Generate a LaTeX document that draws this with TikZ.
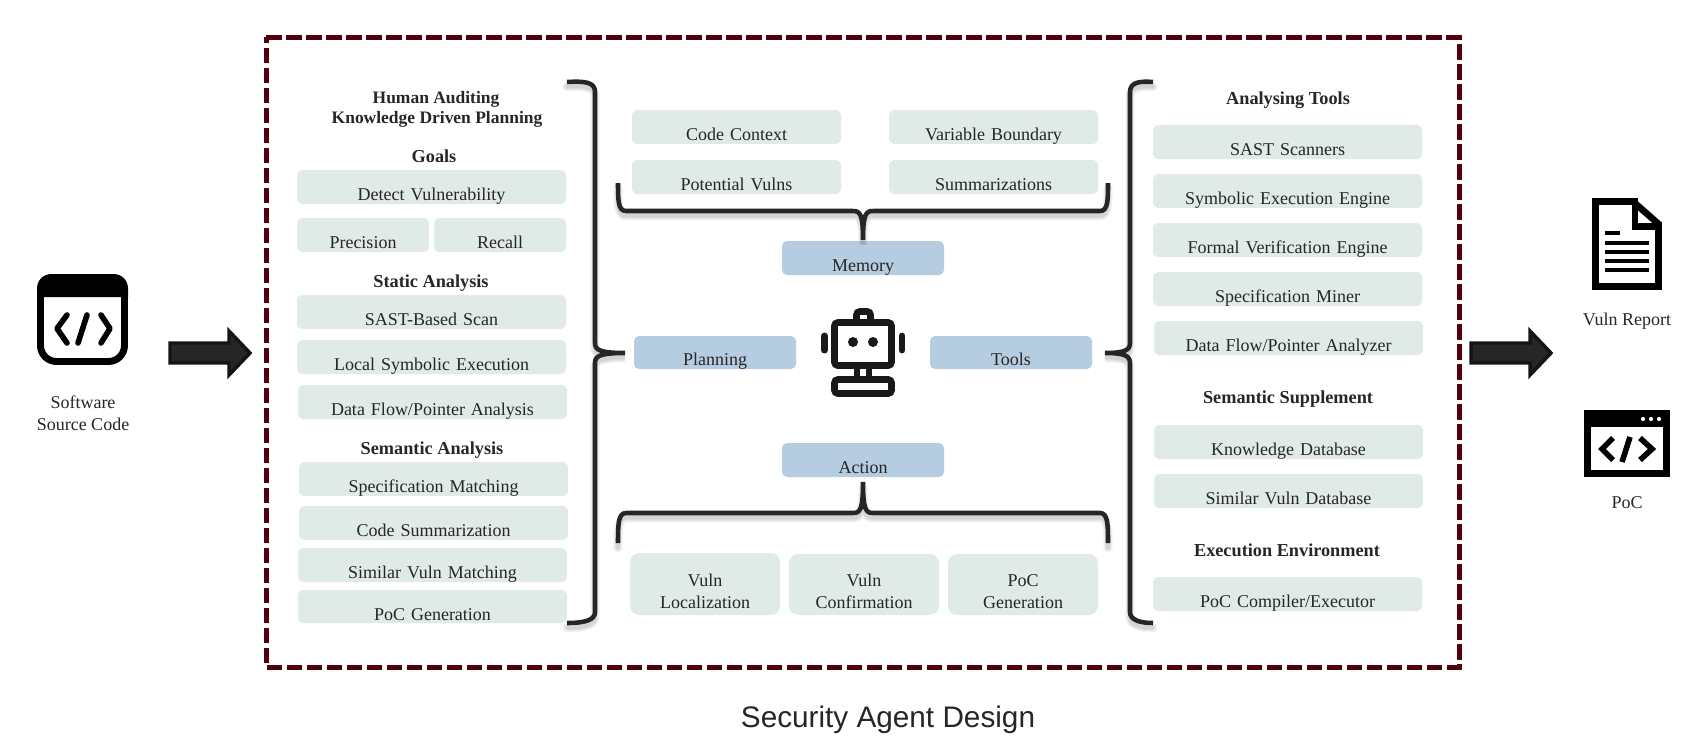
\documentclass[tikz,border=0pt]{standalone}
\usepackage{fontspec}
\setmainfont{Liberation Serif}
\newfontfamily\titlefont{Liberation Sans}
\definecolor{boxgreen}{HTML}{E0EAE6}
\definecolor{boxblue}{HTML}{B6CCE0}
\definecolor{inktext}{HTML}{262626}
\definecolor{framered}{HTML}{50000F}
\definecolor{bracecol}{HTML}{262626}
\tikzset{
  txt/.style={font=\fontsize{13.5pt}{16.5pt}\selectfont,text=inktext,inner sep=0pt},
  head/.style={font=\fontsize{13.7pt}{16.5pt}\selectfont\bfseries,text=inktext,inner sep=0pt,anchor=base},
  headsmall/.style={head,font=\fontsize{13.1pt}{16.5pt}\selectfont\bfseries},
  lbl/.style={txt,anchor=base},
  framedash/.style={draw=framered,line width=3.75pt,dash pattern=on 11.6pt off 3.4pt},
  bracemain/.style={draw=bracecol,line width=3.4pt,line join=miter},
  braceshade/.style={draw=black,opacity=0.045,line cap=round},
  bigarrow/.style={fill=inktext,draw=black!92,line width=2.6pt,miter limit=10},
  icon/.style={draw=black,line width=5pt},
  codeglyph/.style={draw=black,line width=4.2pt,line cap=round,line join=round},
  pocglyph/.style={draw=black,line width=4.2pt},
  robot/.style={draw=black!90,line width=5pt,rounded corners=2.5pt}
}
\newcommand\bx[7][boxgreen]{%
  \pgfmathsetmacro\bxw{(#4-#2)*0.75}%
  \pgfmathsetmacro\bxh{(#6-#3)*0.75}%
  \pgfmathsetmacro\bxd{(#5-#6)*0.75}%
  \pgfmathsetmacro\bxcx{(#2+#4)/2}%
  \pgfmathsetmacro\bxcy{(#3+#5)/2}%
  \node[txt,fill=#1,rounded corners=3.8pt,text width=\bxw pt,align=center,
        text height=\bxh pt,text depth=\bxd pt] (#2x#3) at (\bxcx,\bxcy) {#7};%
}
\newcommand\bxtwo[7]{%
  \pgfmathsetmacro\bxw{(#3-#1)*0.75}%
  \pgfmathsetmacro\bxh{(#5-#2)*0.75}%
  \pgfmathsetmacro\bxd{(#4-#5-22)*0.75}%
  \pgfmathsetmacro\bxcx{(#1+#3)/2}%
  \pgfmathsetmacro\bxcy{(#2+#4)/2}%
  \node[txt,fill=boxgreen,rounded corners=7pt,text width=\bxw pt,align=center] (#1x#2) at (\bxcx,\bxcy)
    {\rule{0pt}{\bxh pt}#6\\#7\rule[-\bxd pt]{0pt}{\bxd pt}};%
}
\newcommand\shaded[1]{%
  \begin{scope}[yshift=-3.5pt]
    \foreach \w in {7,5.5,4,2.5}{\draw[braceshade,line width=\w pt] #1;}
  \end{scope}
  \draw[bracemain] #1;
}
\begin{document}
\begin{tikzpicture}[x=0.75pt,y=-0.75pt]
\useasboundingbox[fill=white] (0,0) rectangle (1695,751);

% ---- frame
\coordinate (fTL) at (266.3,37.3);
\coordinate (fTR) at (1459.3,37.3);
\coordinate (fBL) at (266.3,667.3);
\coordinate (fBR) at (1459.3,667.3);
\draw[framedash] (fTL) -- (fTR) -- (fBR) -- (fBL) -- cycle;

% ---- title
\node[anchor=base,font=\titlefont\fontsize{22.3pt}{26pt}\selectfont,text=inktext,inner sep=0pt] (title) at (888,727) {Security Agent Design};

% ---- left column
\node[headsmall] (h1) at (436,103) {Human Auditing};
\node[headsmall] (h2) at (437,123) {Knowledge Driven Planning};
\node[head] (h3) at (434,162) {Goals};
\bx{297}{170}{566}{204}{200}{Detect Vulnerability}
\bx{297}{218}{429}{252}{248}{Precision}
\bx{434}{218}{566}{252}{248}{Recall}
\node[head] (h4) at (431,287) {Static Analysis};
\bx{297}{295}{566}{329}{325}{SAST-Based Scan}
\bx{297}{340}{566}{374}{370}{Local Symbolic Execution}
\bx{298}{385}{567}{419}{415}{Data Flow/Pointer Analysis}
\node[head] (h5) at (432,454) {Semantic Analysis};
\bx{299}{462}{568}{496}{492}{Specification Matching}
\bx{299}{506}{568}{540}{536}{Code Summarization}
\bx{298}{548}{567}{582}{578}{Similar Vuln Matching}
\bx{298}{590}{567}{623}{620}{PoC Generation}

% ---- centre
\bx{632}{110}{841}{144}{140}{Code Context}
\bx{889}{110}{1098}{144}{140}{Variable Boundary}
\bx{632}{160}{841}{194}{190}{Potential Vulns}
\bx{889}{160}{1098}{194}{190}{Summarizations}
\bx[boxblue]{782}{241}{944}{275}{271}{Memory}
\bx[boxblue]{634}{336}{796}{369}{365}{Planning}
\bx[boxblue]{930}{336}{1092}{369}{365}{Tools}
\bx[boxblue]{782}{443}{944}{477}{473}{Action}
\bxtwo{630}{553}{780}{615}{586}{Vuln}{Localization}
\bxtwo{789}{554}{939}{615}{586}{Vuln}{Confirmation}
\bxtwo{948}{554}{1098}{615}{586}{PoC}{Generation}

% ---- right column
\node[head] (h6) at (1288,104) {Analysing Tools};
\bx{1153}{125}{1422}{159}{155}{SAST Scanners}
\bx{1153}{174}{1422}{208}{204}{Symbolic Execution Engine}
\bx{1153}{223}{1422}{257}{253}{Formal Verification Engine}
\bx{1153}{272}{1422}{306}{302}{Specification Miner}
\bx{1154}{321}{1423}{355}{351}{Data Flow/Pointer Analyzer}
\node[head] (h7) at (1288,403) {Semantic Supplement};
\bx{1154}{425}{1423}{459}{455}{Knowledge Database}
\bx{1154}{474}{1423}{508}{504}{Similar Vuln Database}
\node[head] (h8) at (1287,556) {Execution Environment};
\bx{1153}{577}{1422}{611}{607}{PoC Compiler/Executor}

% ---- braces
\shaded{(567,82) .. controls (585,81) and (595,82) .. (595,92) -- (595,343) .. controls (595,350) and (600,353) .. (625,353) .. controls (600,353) and (595,356) .. (595,363) -- (595,612) .. controls (595,620) and (585,623) .. (567,623)}
\shaded{(1153,82) .. controls (1140,81) and (1130,82) .. (1130,92) -- (1130,343) .. controls (1130,350) and (1125,353) .. (1105,353) .. controls (1125,353) and (1130,356) .. (1130,363) -- (1130,612) .. controls (1130,620) and (1140,623) .. (1153,623)}
\shaded{(618,183) .. controls (618,200) and (618,211) .. (626,211) -- (853,211) .. controls (860,211) and (863,214) .. (863,240) .. controls (863,214) and (866,211) .. (873,211) -- (1100,211) .. controls (1108,211) and (1108,200) .. (1108,183)}
\shaded{(618,543) .. controls (618,525) and (618,513) .. (626,513) -- (853,513) .. controls (860,513) and (863,510) .. (863,482) .. controls (863,510) and (866,513) .. (873,513) -- (1100,513) .. controls (1108,513) and (1108,525) .. (1108,543)}

% ---- block arrows
\draw[bigarrow] (170,343) -- (229,343) -- (229,331) -- (250,353) -- (229,375) -- (229,363) -- (170,363) -- cycle;
\draw[bigarrow] (1471,343) -- (1530,343) -- (1530,331) -- (1551,353) -- (1530,375) -- (1530,363) -- (1471,363) -- cycle;

% ---- source-code icon
\draw[draw=black,line width=5.2pt,rounded corners=12pt] (40.5,277.5) rectangle (124.5,361.5);
\fill[black] (37,297) -- (37,289) .. controls (37,280) and (43,274) .. (52,274) -- (113,274) .. controls (122,274) and (128,280) .. (128,289) -- (128,297) -- cycle;
\draw[codeglyph] (67,315) -- (57,328.5) -- (67,343);
\draw[codeglyph] (87,315) -- (78,343);
\draw[codeglyph] (101,315) -- (110,328.5) -- (101,343);
\node[lbl] (src1) at (83,408) {Software};
\node[lbl] (src2) at (83,430) {Source Code};

% ---- report icon
\draw[icon,miter limit=4] (1595.5,201.5) -- (1633,201.5) -- (1658.5,224) -- (1658.5,286.5) -- (1595.5,286.5) -- cycle;
\draw[draw=black,line width=5pt] (1635,198) -- (1635,226.5) -- (1662,226.5);
\foreach \yy/\xe in {233/1620,243/1649,252/1649,261/1649,270/1649}{\fill[black] (1605,\yy-2.4) rectangle (\xe,\yy+2.4);}
\node[lbl] (rep) at (1627,325) {Vuln Report};

% ---- PoC icon
\draw[icon] (1587.3,413.3) rectangle (1666.7,473.7);
\fill[black] (1584,410) rectangle (1670,427);
\foreach \xx in {1643,1651,1659}{\fill[white] (\xx,419) circle[radius=2.1];}
\draw[pocglyph] (1613,438) -- (1602,449) -- (1613,460);
\draw[pocglyph] (1630,437) -- (1622,462);
\draw[pocglyph] (1640,438) -- (1652,449) -- (1640,460);
\node[lbl] (poc) at (1627,508) {PoC};

% ---- robot
\draw[robot] (856.5,319) -- (856.5,311.5) -- (870.5,311.5) -- (870.5,319);
\draw[robot] (834.5,322.5) rectangle (891.5,365.5);
\draw[robot] (834.5,379.5) rectangle (891.5,393.5);
\draw[draw=black!90,line width=5pt] (857,366) -- (857,379);
\draw[draw=black!90,line width=5pt] (869,366) -- (869,379);
\fill[black!90] (853,342) circle[radius=5];
\fill[black!90] (873,342) circle[radius=5];
\draw[draw=black!90,line width=5.2pt,line cap=round] (824.5,336) -- (824.5,350);
\draw[draw=black!90,line width=5.2pt,line cap=round] (902,336) -- (902,350);
\end{tikzpicture}
\end{document}
